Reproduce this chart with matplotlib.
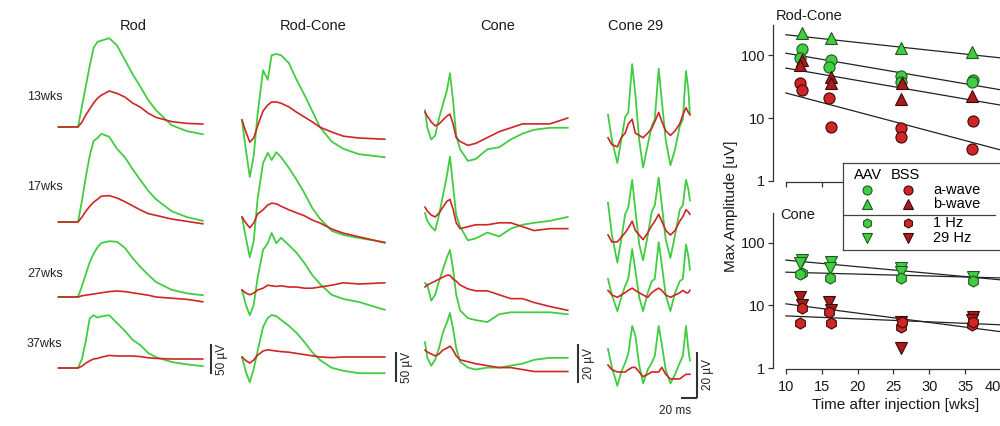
import matplotlib.pyplot as plt
import numpy as np

plt.rcParams['font.family'] = ['Liberation Sans', 'DejaVu Sans']

W, H = 1000, 426
GREEN = '#42cc42'
RED = '#cf2525'
DARK_RED = '#a81c1c'
GREEN_EDGE = '#1e5a1e'
RED_EDGE = '#3a0a0a'

# ---------------- ERG traces (values in uV, rows = 13, 17, 27, 37 wks) ----------------
row_labels = ['13wks', '17wks', '27wks', '37wks']
col_titles = ['Rod', 'Rod-Cone', 'Cone', 'Cone 29']

t_rod = [-25, 0, 5, 10, 15, 20, 25, 30, 40, 50, 60, 70, 80, 90, 100, 120, 140, 160]
rod_aav = [
    [0, 0, 34, 68, 102, 132, 142, 144, 148, 136, 112, 88, 67, 45, 28, 3, -7, -12],
    [0, 0, 35, 75, 110, 135, 140, 147, 142, 122, 108, 88, 70, 52, 38, 18, 8, 2],
    [0, 0, 18, 38, 58, 72, 83, 90, 93, 92, 82, 65, 50, 37, 25, 12, 6, 3],
    [0, 0, 15, 45, 83, 88, 84, 86, 88, 75, 62, 47, 38, 25, 18, 10, 6, 3],
]
rod_bss = [
    [0, 0, 8, 20, 30, 40, 48, 53, 60, 56, 50, 40, 33, 23, 16, 9, 6, 5],
    [0, 0, 8, 18, 26, 33, 38, 43, 44, 40, 34, 27, 20, 14, 11, 5, 1, -3],
    [0, 0, 2, 3, 4, 5, 6, 7, 9, 10, 9, 7, 5, 3, 0, -2, -4, -8],
    [0, 0, 3, 8, 12, 15, 16, 18, 21, 20, 20, 20, 19, 17, 16, 15, 15, 15],
]

t_rc = [0, 5, 10, 15, 20, 27, 33, 38, 44, 50, 60, 70, 80, 90, 100, 115, 130, 150, 183]
rc_aav = [
    [0, -50, -95, -60, 10, 83, 67, 108, 110, 108, 95, 67, 42, 15, -12, -36, -48, -57, -62],
    [0, -35, -67, -40, 30, 90, 107, 95, 108, 100, 82, 62, 40, 15, -3, -23, -30, -35, -42],
    [0, -25, -42, -25, 20, 67, 78, 95, 78, 87, 75, 62, 45, 25, 10, -8, -15, -20, -33],
    [0, -25, -42, -20, 10, 50, 65, 70, 68, 62, 52, 40, 25, 8, -5, -18, -23, -27, -27],
]
rc_bss = [
    [0, -20, -37, -30, -10, 15, 25, 30, 30, 28, 22, 13, 5, -3, -12, -20, -27, -30, -32],
    [0, -10, -18, -10, 5, 12, 20, 23, 22, 18, 12, 7, 2, -5, -10, -20, -27, -33, -43],
    [0, -5, -8, -5, 0, 3, 8, 7, 6, 7, 5, 5, 3, 3, 5, 8, 12, 10, 12],
    [0, -6, -10, -5, 3, 10, 12, 11, 10, 9, 8, 6, 4, 2, 0, -1, 0, 0, 0],
]

t_cone = [0, 3, 8, 13, 18, 23, 28, 32, 36, 40, 45, 55, 65, 80, 95, 110, 125, 140, 160, 183]
cone_aav = [
    [5, -4, -10, -8, 1, 8, 15, 24, 10, -8, -15, -21, -20, -15, -14, -10, -7, -5, -4, -4],
    [1, -3, -6, -8, 0, 10, 20, 30, 15, 0, -6, -13, -12, -9, -11, -7, -5, -4, -3, -1],
    [1, 0, -8, -5, 2, 8, 14, 18, 8, -5, -13, -17, -18, -19, -15, -14, -14, -14, -14, -15],
    [5, -3, -7, -4, 2, 10, 15, 20, 12, 2, -5, -8, -9, -8, -8, -7, -6, -4, -3, -3],
]
cone_bss = [
    [4, 2, -1, -3, -2, 0, 2, 3, -2, -9, -11, -13, -12, -9, -6, -4, -2, -2, -2, 1],
    [4, 2, 0, -1, 1, 4, 7, 8, 3, -4, -7, -6, -5, -5, -4, -4, -6, -8, -7, -7],
    [-1, 0, 1, 2, 3, 4, 5, 5, 3, 2, 0, -2, -3, -3, -5, -7, -7, -9, -11, -13],
    [1, 0, -1, -2, -1, 1, 2, 3, 1, -2, -4, -5, -6, -7, -8, -8, -9, -10, -10, -10],
]

t_c29 = [0, 5, 12, 17, 22, 26, 31, 35, 40, 45, 51, 56, 60, 65, 69, 74, 80, 86, 92, 96, 100, 103, 105]
c29_aav = [
    [11, 0, -10, 0, 10, 12, 33, 20, 0, -12, -2, 6, 9, 31, 17, 0, -11, -4, 6, 9, 30, 22, 11],
    [14, 0, -12, -2, 9, 12, 24, 11, -4, -11, 0, 10, 13, 25, 13, -2, -10, 0, 11, 13, 24, 20, 15],
    [7, 0, -7, -1, 4, 7, 20, 11, -1, -7, 1, 6, 7, 23, 13, 0, -7, 1, 6, 7, 22, 17, 11],
    [10, 2, -6, 0, 4, 8, 20, 16, 3, -5, 1, 4, 7, 20, 12, 1, -5, -1, 4, 7, 20, 10, 5],
]
c29_bss = [
    [1, -2, -3, 1, 3, 7, 9, 3, 2, 1, 3, 5, 8, 12, 8, 4, 2, 4, 7, 11, 14, 12, 11],
    [0, -3, -3, -1, 1, 3, 6, 2, 0, -2, 1, 4, 6, 9, 6, 2, 0, 2, 6, 8, 11, 10, 9],
    [2, 0, -1, 0, 1, 2, 3, 2, 1, 0, -1, 1, 2, 3, 2, 0, -1, 0, 1, 2, 1, 1, 2],
    [3, 1, 0, 0, 0, 1, 2, 2, 0, -2, -1, 0, 0, 0, 2, -1, -3, -3, -3, -2, -1, -1, -1],
]

# ---------------- amplitudes vs time after injection ----------------
fit_wk = [10, 40]

rc_aav_a_wk = [12.2, 12.0, 16.3, 16.0, 26.1, 26.0, 36.1, 36.0]
rc_aav_a = [125, 90, 82, 65, 46, 38, 40, 37]
rc_aav_b_wk = [12.2, 16.3, 26.0, 36.0]
rc_aav_b = [223, 186, 129, 112]
rc_bss_a_wk = [12.0, 12.3, 16.0, 16.3, 26.0, 26.1, 36.1, 36.0]
rc_bss_a = [36, 28, 21, 7.2, 7, 5, 9, 3.2]
rc_bss_b_wk = [12.2, 12.0, 16.3, 16.3, 26.2, 26.0, 36.0]
rc_bss_b = [83, 69, 45, 36, 36, 20, 22]
rc_fits = [(210, 90), (107, 28), (62, 16), (25, 3.1)]

cone_aav_29_wk = [12.2, 12.0, 16.3, 16.1, 26.0, 26.1, 36.1]
cone_aav_29 = [53, 48, 50, 40, 40, 34, 28]
cone_aav_1_wk = [12.2, 12.0, 16.1, 26.1, 36.1]
cone_aav_1 = [33, 32, 27, 27, 25]
cone_bss_29_wk = [12.0, 12.2, 16.0, 16.3, 26.0, 26.1, 36.1, 36.0]
cone_bss_29 = [13.7, 10, 11.4, 8.5, 2.1, 5.4, 6.5, 5.9]
cone_bss_1_wk = [12.0, 12.2, 16.3, 16.0, 26.0, 26.2, 36.0, 36.1]
cone_bss_1 = [5.2, 9.1, 5.2, 7.9, 4.5, 5.4, 4.9, 5.4]
cone_fits = [(53, 25.6), (34, 27.5), (10.6, 3.8), (6.8, 4.9)]

fig = plt.figure(figsize=(W / 100, H / 100), dpi=100)

# ---------------- trace columns ----------------
PX_MS = 0.78  # pixels per ms
# (left px, right px, flash onset px, px per uV, row baselines px, scale bar)
layout = [
    (15, 235, 78, 0.60, [127, 222, 297, 368], (211, 374, 50)),
    (235, 420, 242, 0.60, [120, 217, 290, 357], (396, 382, 50)),
    (420, 600, 425, 1.95, [120, 215, 285, 352], (578, 383, 20)),
    (600, 720, 608, 2.30, [140, 235, 295, 372], (697, 398, 20)),
]
traces = [(t_rod, rod_aav, rod_bss), (t_rc, rc_aav, rc_bss),
          (t_cone, cone_aav, cone_bss), (t_c29, c29_aav, c29_bss)]
title_x = [133, 313, 498, 636]

for (left, right, onset, uvpx, bases, bar), (t, aav, bss), title, tx in zip(layout, traces, col_titles, title_x):
    ax = fig.add_axes([left / W, 0, (right - left) / W, 1])
    ax.set_xlim((left - onset) / PX_MS, (right - onset) / PX_MS)
    ax.set_ylim(0, H / uvpx)
    ax.axis('off')
    for g, r, b in zip(aav, bss, bases):
        off = (H - b) / uvpx
        ax.plot(t, np.array(g) + off, color=GREEN, lw=1.3, solid_joinstyle='round')
        ax.plot(t, np.array(r) + off, color=RED, lw=1.2, solid_joinstyle='round')
    bx, by, amp = bar
    tb = (bx - onset) / PX_MS
    yb = (H - by) / uvpx
    ax.plot([tb, tb], [yb, yb + amp], color='#333333', lw=1.5, solid_capstyle='butt')
    fig.text((bx + 11) / W, 1 - (by - amp * uvpx / 2) / H, f'{amp} µV', rotation=90,
             ha='center', va='center', fontsize=8.5, color='#222222')
    if title == 'Cone 29':
        ax.plot([tb - 20, tb], [yb, yb], color='#333333', lw=1.5, solid_capstyle='butt')
        fig.text((bx - 22) / W, 1 - 411 / H, '20 ms', ha='center', va='center',
                 fontsize=8.5, color='#222222')
    fig.text(tx / W, 1 - 26 / H, title, ha='center', va='center', fontsize=10.5, color='#1a1a1a')

for lab, y in zip(row_labels, [97, 187, 274, 344]):
    fig.text(27 / W, 1 - y / H, lab, ha='left', va='center', fontsize=9, color='#222222')

# ---------------- amplitude plots ----------------
def amp_axes(top_px, bottom_px):
    ax = fig.add_axes([773 / W, 1 - bottom_px / H, 231.6 / W, (bottom_px - top_px) / H])
    ax.set_yscale('log')
    ax.set_ylim(1, 300)
    ax.set_xlim(8.2, 40.5)
    ax.set_yticks([1, 10, 100], ['1', '10', '100'])
    ax.yaxis.set_minor_locator(plt.NullLocator())
    ax.set_xticks([10, 15, 20, 25, 30, 35, 40])
    ax.spines[['top', 'right']].set_visible(False)
    ax.spines['bottom'].set_bounds(10, 40)
    ax.spines['bottom'].set_position(('outward', 1))
    for s in ax.spines.values():
        s.set_linewidth(0.9)
        s.set_color('#333333')
    ax.tick_params(direction='out', length=3.5, width=0.9, labelsize=10.5, color='#333333',
                   labelcolor='#1a1a1a', pad=2)
    ax.tick_params(axis='x', pad=4)
    ax.patch.set_alpha(0)
    return ax

def pts(ax, wk, v, marker, fc, ec):
    ax.plot(wk, v, ls='none', marker=marker, ms=8, mfc=fc, mec=ec, mew=0.8, zorder=3)

def fits(ax, vals):
    for a, b in vals:
        ax.plot(fit_wk, [a, b], color='#222222', lw=0.9, zorder=2)

ax1 = amp_axes(25, 181)
ax1.tick_params(axis='x', labelbottom=False)
fits(ax1, rc_fits)
pts(ax1, rc_aav_b_wk, rc_aav_b, '^', GREEN, GREEN_EDGE)
pts(ax1, rc_aav_a_wk, rc_aav_a, 'o', GREEN, GREEN_EDGE)
pts(ax1, rc_bss_b_wk, rc_bss_b, '^', DARK_RED, RED_EDGE)
pts(ax1, rc_bss_a_wk, rc_bss_a, 'o', RED, RED_EDGE)
fig.text(776 / W, 1 - 16 / H, 'Rod-Cone', ha='left', va='center', fontsize=10.5, color='#1a1a1a')

ax2 = amp_axes(213, 368)
fits(ax2, cone_fits)
pts(ax2, cone_aav_29_wk, cone_aav_29, 'v', GREEN, GREEN_EDGE)
pts(ax2, cone_aav_1_wk, cone_aav_1, 'h', GREEN, GREEN_EDGE)
pts(ax2, cone_bss_29_wk, cone_bss_29, 'v', DARK_RED, RED_EDGE)
pts(ax2, cone_bss_1_wk, cone_bss_1, 'h', RED, RED_EDGE)
# keep the last tick label inside the figure edge
ax2.get_xticklabels()[-1].set_horizontalalignment('right')
fig.text(780 / W, 1 - 215 / H, 'Cone', ha='left', va='center', fontsize=10.5, color='#1a1a1a')

fig.text(731 / W, 1 - 206 / H, 'Max Amplitude [uV]', rotation=90, ha='center', va='center',
         fontsize=11, color='#1a1a1a')
fig.text(896 / W, 1 - 405 / H, 'Time after injection [wks]', ha='center', va='center',
         fontsize=11, color='#1a1a1a')

# ---------------- legend box ----------------
leg = fig.add_axes([843 / W, 1 - 250 / H, 162 / W, 87 / H], zorder=5)
leg.set_xlim(843, 1005)
leg.set_ylim(250, 163)
leg.set_xticks([])
leg.set_yticks([])
for s in leg.spines.values():
    s.set_linewidth(0.9)
    s.set_color('#444444')
leg.text(868, 175, 'AAV', ha='center', va='center', fontsize=10.5)
leg.text(905, 175, 'BSS', ha='center', va='center', fontsize=10.5)
leg_rows = [('o', RED, 'a-wave', 190), ('^', DARK_RED, 'b-wave', 204),
            ('h', RED, '1 Hz', 223), ('v', DARK_RED, '29 Hz', 238)]
for m, rc, lab, y in leg_rows:
    leg.plot(867, y, marker=m, ms=6.5, mfc=GREEN, mec=GREEN_EDGE, mew=0.8)
    leg.plot(908, y, marker=m, ms=6.5, mfc=rc, mec=RED_EDGE, mew=0.8)
    leg.text(933, y, lab, ha='left', va='center', fontsize=10.5)
leg.plot([843, 995], [215, 215], color='#444444', lw=0.9)

fig.savefig('out.png', dpi=100)
